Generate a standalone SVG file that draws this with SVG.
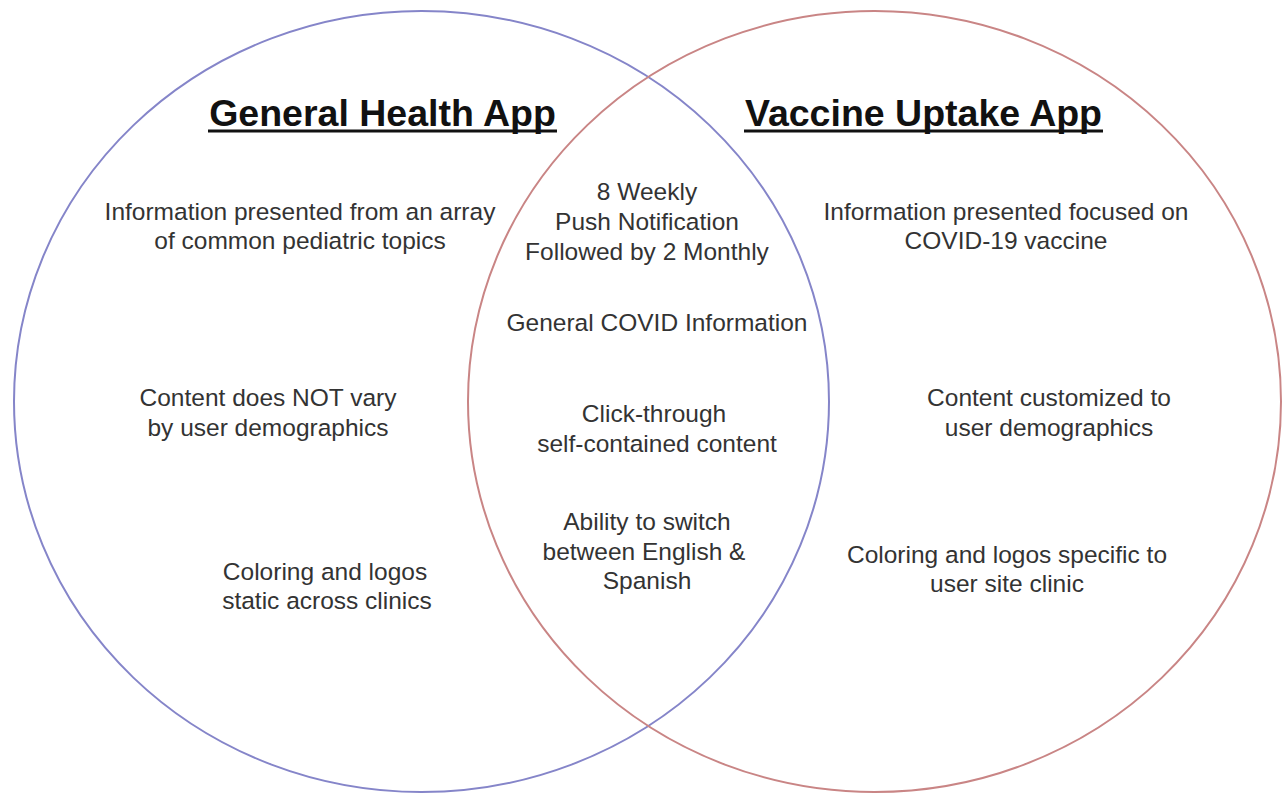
<svg xmlns="http://www.w3.org/2000/svg" width="1285" height="795" viewBox="0 0 1285 795">
<style>
.t{font-family:"Liberation Sans",Arial,sans-serif;font-size:24.5px;fill:#333;text-anchor:middle}
.h{font-family:"Liberation Sans",Arial,sans-serif;font-size:37.5px;font-weight:bold;fill:#111;text-anchor:middle}
.ul{stroke:#111;stroke-width:3}
</style>
<rect width="1285" height="795" fill="#fff"/>
<g id="connectors"></g>
<g id="general-health">
<ellipse cx="421.5" cy="401.5" rx="407.5" ry="390.5" fill="none" stroke="#8585c9" stroke-width="2"/>
<text class="h" x="382.5" y="126">General Health App</text>
<line class="ul" x1="208" y1="131" x2="557" y2="131"/>
</g>
<g id="vaccine-uptake">
<ellipse cx="874.5" cy="401.5" rx="406.5" ry="390.5" fill="none" stroke="#c98585" stroke-width="2"/>
<text class="h" x="923.5" y="126">Vaccine Uptake App</text>
<line class="ul" x1="744" y1="131" x2="1103" y2="131"/>
</g>
<g id="left-items">
<text class="t" x="300" y="220">Information presented from an array</text>
<text class="t" x="300" y="249">of common pediatric topics</text>
<text class="t" x="268" y="406">Content does NOT vary</text>
<text class="t" x="268" y="436">by user demographics</text>
<text class="t" x="325" y="580">Coloring and logos</text>
<text class="t" x="327" y="609">static across clinics</text>
</g>
<g id="shared-items">
<text class="t" x="647" y="200">8 Weekly</text>
<text class="t" x="647" y="230">Push Notification</text>
<text class="t" x="647" y="260">Followed by 2 Monthly</text>
<text class="t" x="657" y="331">General COVID Information</text>
<text class="t" x="654" y="422">Click-through</text>
<text class="t" x="657" y="452">self-contained content</text>
<text class="t" x="647" y="530">Ability to switch</text>
<text class="t" x="644" y="560">between English &amp;</text>
<text class="t" x="647" y="589">Spanish</text>
</g>
<g id="right-items">
<text class="t" x="1006" y="220">Information presented focused on</text>
<text class="t" x="1006" y="249">COVID-19 vaccine</text>
<text class="t" x="1049" y="406">Content customized to</text>
<text class="t" x="1049" y="436">user demographics</text>
<text class="t" x="1007" y="563">Coloring and logos specific to</text>
<text class="t" x="1007" y="592">user site clinic</text>
</g>
</svg>
